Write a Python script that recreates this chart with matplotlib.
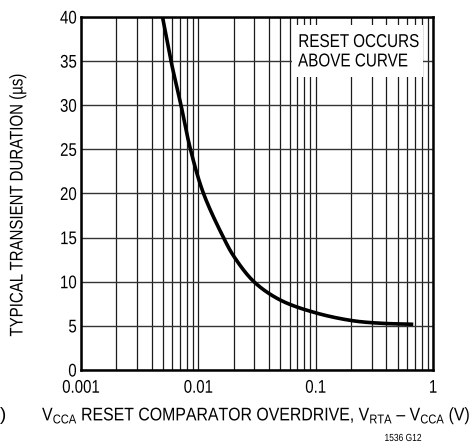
import matplotlib
matplotlib.use("Agg")
import matplotlib.pyplot as plt
import numpy as np
from matplotlib.ticker import LogLocator, NullFormatter
from matplotlib.patheffects import AbstractPathEffect
from matplotlib.transforms import Affine2D
from matplotlib.patches import Rectangle

plt.rcParams['font.family'] = ['Liberation Sans', 'DejaVu Sans']
plt.rcParams['mathtext.fontset'] = 'custom'
plt.rcParams['mathtext.rm'] = 'Liberation Sans'

# curve
overdrive = [0.00495, 0.00585, 0.00712, 0.00857, 0.01107, 0.01639, 0.02014, 0.0298,
             0.0497, 0.0987, 0.203, 0.354, 0.679]
duration = [40, 35, 30, 25, 20, 15, 12.85, 10, 7.94, 6.5, 5.6, 5.3, 5.18]
y_ticks = [0, 5, 10, 15, 20, 25, 30, 35, 40]
x_ticks = [0.001, 0.01, 0.1, 1]
x_ticklabels = ['0.001', '0.01', '0.1', '1']


class Squeeze(AbstractPathEffect):
    """Draw text narrower (the original uses a condensed face)."""
    def __init__(self, sx=0.82, anchor='center'):
        super().__init__()
        self.sx = sx
        self.anchor = anchor

    def draw_path(self, renderer, gc, tpath, affine, rgbFace=None):
        ext = tpath.get_extents()
        cx = {'left': ext.x0, 'center': (ext.x0 + ext.x1) / 2, 'right': ext.x1}[self.anchor]
        t = Affine2D().translate(-cx, 0).scale(self.sx, 1).translate(cx, 0)
        renderer.draw_path(gc, tpath, t + affine, rgbFace)


def centripetal_cr(px, py, n=40, alpha=0.5):
    P = np.column_stack([px, py]).astype(float)
    P = np.vstack([2 * P[0] - P[1], P, 2 * P[-1] - P[-2]])
    out = []
    for i in range(1, len(P) - 2):
        p0, p1, p2, p3 = P[i - 1], P[i], P[i + 1], P[i + 2]
        t0 = 0.0
        t1 = t0 + np.linalg.norm(p1 - p0) ** alpha
        t2 = t1 + np.linalg.norm(p2 - p1) ** alpha
        t3 = t2 + np.linalg.norm(p3 - p2) ** alpha
        t = np.linspace(t1, t2, n, endpoint=False)[:, None]
        a1 = (t1 - t) / (t1 - t0) * p0 + (t - t0) / (t1 - t0) * p1
        a2 = (t2 - t) / (t2 - t1) * p1 + (t - t1) / (t2 - t1) * p2
        a3 = (t3 - t) / (t3 - t2) * p2 + (t - t2) / (t3 - t2) * p3
        b1 = (t2 - t) / (t2 - t0) * a1 + (t - t0) / (t2 - t0) * a2
        b2 = (t3 - t) / (t3 - t1) * a2 + (t - t1) / (t3 - t1) * a3
        out.append((t2 - t) / (t2 - t1) * b1 + (t - t1) / (t2 - t1) * b2)
    out.append(P[-2][None, :])
    out = np.vstack(out)
    return out[:, 0], out[:, 1]


W, H = 474, 446
fig = plt.figure(figsize=(W / 100, H / 100), dpi=100)
ax = fig.add_axes([81 / W, 1 - 370 / H, 352 / W, 353 / H])

# smooth the read points in (log x, y/40) space
u, v = centripetal_cr((np.log10(overdrive) + 3) / 3, np.array(duration) / 40)
ax.plot(10 ** (u * 3 - 3), v * 40, color='black', lw=2.6, solid_capstyle='butt', zorder=4)

ax.set_xscale('log')
ax.set_xlim(0.001, 1)
ax.set_ylim(0, 40)
ax.set_xticks(x_ticks)
ax.set_xticklabels(x_ticklabels)
ax.xaxis.set_minor_locator(LogLocator(base=10, subs=np.arange(2, 10)))
ax.xaxis.set_minor_formatter(NullFormatter())
ax.set_yticks(y_ticks)
ax.grid(True, which='both', axis='x', color='0.1', lw=0.9)
ax.grid(True, which='major', axis='y', color='0.2', lw=1.0)
ax.tick_params(which='both', length=0, labelsize=13.2)
ax.tick_params(axis='y', pad=3)
ax.tick_params(axis='x', pad=7)
for lab in ax.get_xticklabels():
    lab.set_path_effects([Squeeze(anchor='center')])
for lab in ax.get_yticklabels():
    lab.set_path_effects([Squeeze(anchor='right')])
for s in ax.spines.values():
    s.set_linewidth(1.8)

sq = [Squeeze(anchor='center')]
fig.text(18 / W, 1 - 205 / H, 'TYPICAL TRANSIENT DURATION (µs)', rotation=90,
         ha='center', va='center', fontsize=13.2, path_effects=sq)
fig.text(257 / W, 1 - 416 / H,
         'V$_{\\mathregular{CCA}}$ RESET COMPARATOR OVERDRIVE, V$_{\\mathregular{RTA}}$ – V$_{\\mathregular{CCA}}$ (V)',
         ha='center', va='center', fontsize=13.2, path_effects=[Squeeze(sx=0.865, anchor='center')])

# label box over the grid
ax.add_patch(Rectangle((0.599, 0.83), 0.373, 0.147, transform=ax.transAxes,
                       facecolor='white', edgecolor='none', zorder=3))
sl = [Squeeze(anchor='left')]
ax.text(0.6165, 0.915, 'RESET OCCURS', transform=ax.transAxes, ha='left', va='baseline',
        fontsize=13.4, zorder=5, path_effects=sl)
ax.text(0.6165, 0.860, 'ABOVE CURVE', transform=ax.transAxes, ha='left', va='baseline',
        fontsize=13.4, zorder=5, path_effects=sl)

fig.text(403 / W, 1 - 441 / H, '1536 G12', fontsize=7.4, ha='center', va='baseline', path_effects=sq)
fig.text(0.0, 1 - 416 / H, ')', fontsize=13.2, ha='left', va='center')

fig.savefig('out.png', dpi=100)
